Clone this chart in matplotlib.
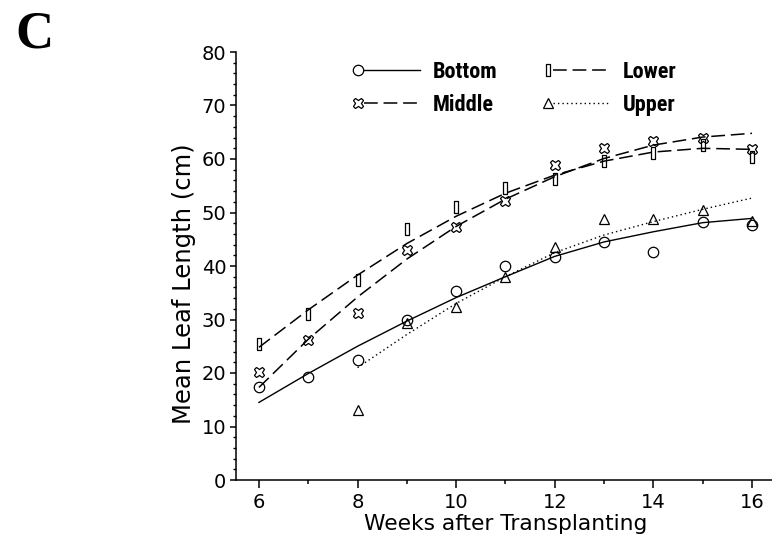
import matplotlib
matplotlib.use("Agg")
import matplotlib.pyplot as plt
from matplotlib.lines import Line2D
from matplotlib.legend_handler import HandlerBase
from matplotlib.ticker import MultipleLocator, FixedLocator

# ---- data ----
weeks = [6, 7, 8, 9, 10, 11, 12, 13, 14, 15, 16]
weeks_upper = [8, 9, 10, 11, 12, 13, 14, 15, 16]

bottom = [17.3, 19.2, 22.4, 29.9, 35.4, 40.0, 41.7, 44.4, 42.6, 48.3, 47.6]
lower = [25.5, 31.0, 37.4, 46.9, 51.0, 54.5, 56.3, 59.7, 61.2, 62.6, 60.4]
middle = [20.2, 26.2, 31.2, 43.0, 47.3, 52.2, 58.8, 62.0, 63.4, 64.0, 61.8]
upper = [13.1, 29.4, 32.3, 37.9, 43.6, 48.7, 48.7, 50.5, 48.5]

# fitted curves as drawn in the reference
bottom_fit = [14.5, 19.9, 25.0, 29.7, 34.1, 38.0, 41.8, 44.5, 46.4, 48.1, 48.9]
lower_fit = [24.8, 31.8, 38.3, 44.2, 49.3, 53.6, 57.0, 59.6, 61.3, 62.0, 61.8]
middle_fit = [17.3, 26.3, 34.2, 41.3, 47.4, 52.5, 56.7, 60.1, 62.6, 64.1, 64.8]
upper_fit = [21.0, 27.2, 33.0, 38.0, 42.5, 45.8, 48.3, 50.6, 52.7]

labels = ["Bottom", "Middle", "Lower", "Upper"]
x_label = "Weeks after Transplanting"
y_label = "Mean Leaf Length (cm)"
panel = "C"

# ---- figure ----
fig = plt.figure(figsize=(7.72, 5.48), dpi=100)
L, R, T, B = 236, 772, 52, 480
ax = fig.add_axes([L / 772, 1 - B / 548, (R - L) / 772, (B - T) / 548])

rect = [(-0.2, -0.5), (0.2, -0.5), (0.2, 0.5), (-0.2, 0.5), (-0.2, -0.5)]
mkw = dict(linestyle="none", mfc="none", mec="black", mew=0.9)

mb, = ax.plot(weeks, bottom, marker="o", ms=7.5, **mkw)
ml, = ax.plot(weeks, lower, marker=rect, ms=8.5, **mkw)
mm, = ax.plot(weeks, middle, marker="X", ms=7.5, **mkw)
mu, = ax.plot(weeks_upper, upper, marker="^", ms=7.5, **mkw)

lb, = ax.plot(weeks, bottom_fit, color="black", lw=1.0, linestyle="-")
ll, = ax.plot(weeks, lower_fit, color="black", lw=1.1, linestyle=(0, (9, 3.8)))
lm, = ax.plot(weeks, middle_fit, color="black", lw=1.1, linestyle=(0, (9, 3.8)))
lu, = ax.plot(weeks_upper, upper_fit, color="black", lw=1.0, linestyle=(0, (1, 2.2)))

ax.set_xlim(5.535, 16.405)
ax.set_ylim(0, 80)
for s in ("top", "right"):
    ax.spines[s].set_visible(False)
for s in ("left", "bottom"):
    ax.spines[s].set_linewidth(1.1)

ax.xaxis.set_major_locator(FixedLocator([6, 8, 10, 12, 14, 16]))
ax.xaxis.set_minor_locator(FixedLocator([7, 9, 11, 13, 15]))
ax.yaxis.set_major_locator(MultipleLocator(10))
ax.yaxis.set_minor_locator(MultipleLocator(2))
ax.tick_params(axis="x", which="major", length=5.5, width=1.1, pad=4, labelsize=14)
ax.tick_params(axis="x", which="minor", length=3, width=1.1)
ax.tick_params(axis="y", which="major", length=4, width=1.1, pad=3, labelsize=14)
ax.tick_params(axis="y", which="minor", length=2.2, width=1.0)

ax.set_xlabel(x_label, fontsize=15.7)
ax.set_ylabel(y_label, fontsize=17.5)
ax.xaxis.set_label_coords((506 - L) / (R - L), (B - 514) / (B - T))
ax.xaxis.label.set_va("top")
ax.yaxis.set_label_coords((196 - L) / (R - L), (B - 284) / (B - T))


class MarkerThenLine(HandlerBase):
    def create_artists(self, legend, orig_handle, xdescent, ydescent,
                       width, height, fontsize, trans):
        mk, ln = orig_handle
        y = height / 2 - ydescent
        x0 = -xdescent
        m = Line2D([x0 + 0.09 * width], [y])
        m.update_from(mk)
        m.set_linestyle("none")
        l = Line2D([x0 + 0.17 * width, x0 + width], [y, y])
        l.update_from(ln)
        l.set_marker("None")
        m.set_transform(trans)
        l.set_transform(trans)
        return [l, m]


handles = [(mb, lb), (mm, lm), (ml, ll), (mu, lu)]
leg = ax.legend(handles, labels, handler_map={tuple: MarkerThenLine()},
                ncol=2, frameon=False, loc="upper left",
                bbox_to_anchor=(352 / 772, 1 - 61 / 548),
                bbox_transform=fig.transFigure,
                borderpad=0, borderaxespad=0,
                handlelength=3.06, handletextpad=0.59, columnspacing=1.98,
                labelspacing=0.5,
                prop=dict(family=["Roboto Condensed", "Liberation Sans Narrow",
                                  "Roboto", "DejaVu Sans"],
                          weight="heavy", size=16))

fig.text(15 / 772, 1 - 48 / 548, panel, fontsize=38, fontweight="bold",
         family=["Liberation Serif", "DejaVu Serif"], va="baseline", ha="left")

fig.savefig("out.png", dpi=100)
